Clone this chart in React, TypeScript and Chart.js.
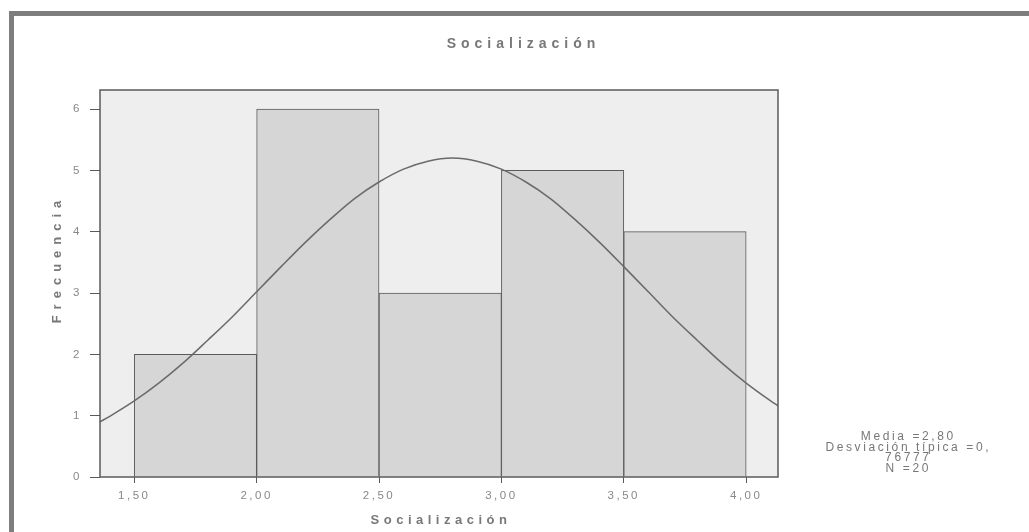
import React, { useEffect, useRef } from "react";
import { Chart, registerables } from "chart.js";

Chart.register(...registerables);

// Histogram bins (centres) and frequencies
const binCenters = [1.75, 2.25, 2.75, 3.25, 3.75];
const frequencies = [2, 6, 3, 5, 4];

// Normal curve
const curveX = [1.36, 1.4, 1.5, 1.6, 1.7, 1.8, 1.9, 2.0, 2.1, 2.2, 2.3, 2.4, 2.5, 2.6, 2.7, 2.8, 2.9, 3.0, 3.1, 3.2, 3.3, 3.4, 3.5, 3.6, 3.7, 3.8, 3.9, 4.0, 4.1, 4.13];
const curveY = [0.9, 0.99, 1.24, 1.53, 1.86, 2.23, 2.61, 3.02, 3.43, 3.83, 4.2, 4.54, 4.81, 5.02, 5.15, 5.2, 5.15, 5.02, 4.81, 4.54, 4.2, 3.83, 3.43, 3.02, 2.61, 2.23, 1.86, 1.53, 1.24, 1.16];

const xTicks = [1.5, 2.0, 2.5, 3.0, 3.5, 4.0];
const yTicks = [0, 1, 2, 3, 4, 5, 6];

const titleText = "Socialización";
const xTitle = "Socialización";
const yTitle = "Frecuencia";
const statsLines = ["Media =2,80", "Desviación típica =0,", "76777", "N =20"];

const FONT = "'Liberation Sans', Arial, sans-serif";

export default function App() {
  const ref = useRef<HTMLCanvasElement | null>(null);

  useEffect(() => {
    const canvas = ref.current;
    if (!canvas) return;

    const decor = {
      id: "decor",
      beforeDraw(chart: any) {
        const ctx = chart.ctx;
        const a = chart.chartArea;
        ctx.save();
        ctx.fillStyle = "#ffffff";
        ctx.fillRect(0, 0, chart.width, chart.height);
        // outer frame (top & left thick edges)
        ctx.fillStyle = "#7e7e7e";
        ctx.fillRect(9, 11, chart.width - 9, 5);
        ctx.fillRect(9, 11, 5, chart.height - 11);
        // plot background
        ctx.fillStyle = "#eeeeee";
        ctx.fillRect(a.left, a.top, a.right - a.left, a.bottom - a.top);
        ctx.restore();
        // letter spacing for tick labels
        (ctx as any).letterSpacing = "2.5px";
      },
      afterDraw(chart: any) {
        const ctx = chart.ctx;
        const a = chart.chartArea;
        ctx.save();
        // plot frame
        ctx.strokeStyle = "#5a5a5a";
        ctx.lineWidth = 1.5;
        ctx.strokeRect(a.left, a.top, a.right - a.left, a.bottom - a.top);

        ctx.textAlign = "center";
        ctx.textBaseline = "middle";
        // title
        ctx.fillStyle = "#787878";
        (ctx as any).letterSpacing = "5px";
        ctx.font = `bold 14px ${FONT}`;
        ctx.fillText(titleText, 521 + 2.5, 44);
        // x title
        ctx.font = `bold 13px ${FONT}`;
        (ctx as any).letterSpacing = "4.5px";
        ctx.fillText(xTitle, (a.left + a.right) / 2 + 2, 520);
        // y title
        ctx.save();
        ctx.translate(57, 262);
        ctx.rotate(-Math.PI / 2);
        (ctx as any).letterSpacing = "6px";
        ctx.fillText(yTitle, 3, 0);
        ctx.restore();
        // stats
        ctx.font = `12px ${FONT}`;
        (ctx as any).letterSpacing = "2.6px";
        ctx.fillStyle = "#777777";
        const ys = [437, 448, 458, 469];
        statsLines.forEach((s, i) => ctx.fillText(s, 907 + 1.3, ys[i]));
        ctx.restore();
        (ctx as any).letterSpacing = "0px";
      },
    };

    const chart = new Chart(canvas, {
      type: "bar",
      data: {
        datasets: [
          {
            type: "line",
            data: curveX.map((x, i) => ({ x, y: curveY[i] })),
            borderColor: "#6a6a6a",
            borderWidth: 1.5,
            pointRadius: 0,
            cubicInterpolationMode: "monotone",
            fill: false,
            order: 0,
          } as any,
          {
            type: "bar",
            data: binCenters.map((x, i) => ({ x, y: frequencies[i] })),
            backgroundColor: "#d6d6d6",
            borderColor: "#5a5a5a",
            borderWidth: 1,
            barPercentage: 1,
            categoryPercentage: 1,
            order: 1,
          } as any,
        ],
      },
      options: {
        responsive: false,
        animation: false,
        events: [],
        layout: { padding: { left: 0, right: 251, top: 90, bottom: 0 } },
        plugins: { legend: { display: false }, tooltip: { enabled: false }, title: { display: false } },
        scales: {
          x: {
            type: "linear",
            min: 1.36,
            max: 4.13,
            offset: false,
            afterBuildTicks: (s: any) => {
              s.ticks = xTicks.map((v) => ({ value: v }));
            },
            afterFit: (s: any) => {
              s.height = 55;
            },
            grid: { display: true, offset: false, drawOnChartArea: false, drawTicks: true, tickLength: 6, color: "#5a5a5a", lineWidth: 1 },
            border: { display: false },
            ticks: {
              color: "#888888",
              font: { family: FONT, size: 11.5 },
              padding: 6,
              maxRotation: 0,
              autoSkip: false,
              callback: (v: any) => Number(v).toFixed(2).replace(".", ","),
            },
          },
          y: {
            type: "linear",
            min: 0,
            max: 6.31,
            afterBuildTicks: (s: any) => {
              s.ticks = yTicks.map((v) => ({ value: v }));
            },
            afterFit: (s: any) => {
              s.width = 100;
            },
            grid: { display: true, drawOnChartArea: false, drawTicks: true, tickLength: 10, color: "#5a5a5a", lineWidth: 1 },
            border: { display: false },
            ticks: {
              color: "#888888",
              font: { family: FONT, size: 11.5 },
              padding: 8,
              autoSkip: false,
              callback: (v: any) => String(v),
            },
          },
        },
      },
      plugins: [decor],
    });

    return () => chart.destroy();
  }, []);

  return (
    <div style={{ position: "fixed", left: 0, top: 0, width: 1029, height: 532, background: "#fff" }}>
      <canvas ref={ref} width={1029} height={532} style={{ display: "block" }} />
    </div>
  );
}
